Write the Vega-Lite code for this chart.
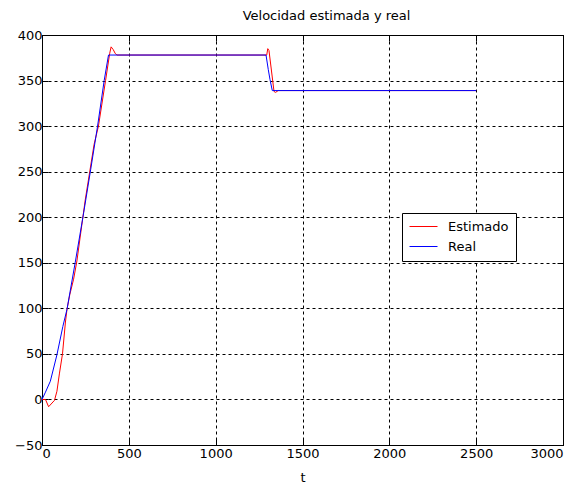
{
  "$schema": "https://vega.github.io/schema/vega-lite/v6.json",
  "autosize": "none",
  "width": 521,
  "height": 410,
  "padding": {"left": 42, "top": 35, "right": 14, "bottom": 42},
  "background": "white",
  "config": {
    "font": "DejaVu Sans",
    "view": {"stroke": "black", "strokeWidth": 1},
    "axis": {
      "domainColor": "black",
      "tickColor": "black",
      "labelColor": "black",
      "labelFontSize": 13,
      "labelFont": "DejaVu Sans",
      "titleFont": "DejaVu Sans",
      "titleFontSize": 13,
      "titleFontWeight": "normal",
      "titleColor": "black",
      "gridColor": "black",
      "gridOpacity": 1,
      "gridDash": [3, 3],
      "gridWidth": 1,
      "tickSize": -6
    }
  },
  "title": {
    "text": "Velocidad estimada y real",
    "fontSize": 13,
    "fontWeight": "normal",
    "font": "DejaVu Sans",
    "color": "black",
    "offset": 6,
    "dx": 24
  },
  "data": {
    "values": [
      {"t": 0, "v": 0, "serie": "Estimado"},
      {"t": 20, "v": 0, "serie": "Estimado"},
      {"t": 38, "v": -8, "serie": "Estimado"},
      {"t": 72, "v": -1, "serie": "Estimado"},
      {"t": 86, "v": 9, "serie": "Estimado"},
      {"t": 100, "v": 28, "serie": "Estimado"},
      {"t": 118, "v": 50, "serie": "Estimado"},
      {"t": 135, "v": 85, "serie": "Estimado"},
      {"t": 144, "v": 99, "serie": "Estimado"},
      {"t": 160, "v": 115, "serie": "Estimado"},
      {"t": 182, "v": 132, "serie": "Estimado"},
      {"t": 201, "v": 152, "serie": "Estimado"},
      {"t": 249, "v": 219, "serie": "Estimado"},
      {"t": 300, "v": 280, "serie": "Estimado"},
      {"t": 325, "v": 300, "serie": "Estimado"},
      {"t": 366, "v": 350, "serie": "Estimado"},
      {"t": 390, "v": 380, "serie": "Estimado"},
      {"t": 398, "v": 387, "serie": "Estimado"},
      {"t": 410, "v": 384, "serie": "Estimado"},
      {"t": 421, "v": 380, "serie": "Estimado"},
      {"t": 431, "v": 378, "serie": "Estimado"},
      {"t": 1294, "v": 378, "serie": "Estimado"},
      {"t": 1300, "v": 385, "serie": "Estimado"},
      {"t": 1307, "v": 383, "serie": "Estimado"},
      {"t": 1336, "v": 338, "serie": "Estimado"},
      {"t": 1345, "v": 337, "serie": "Estimado"},
      {"t": 1360, "v": 339, "serie": "Estimado"},
      {"t": 2500, "v": 339, "serie": "Estimado"},
      {"t": 0, "v": 0, "serie": "Real"},
      {"t": 20, "v": 8, "serie": "Real"},
      {"t": 48, "v": 20, "serie": "Real"},
      {"t": 86, "v": 49, "serie": "Real"},
      {"t": 120, "v": 80, "serie": "Real"},
      {"t": 144, "v": 99, "serie": "Real"},
      {"t": 191, "v": 150, "serie": "Real"},
      {"t": 240, "v": 205, "serie": "Real"},
      {"t": 280, "v": 252, "serie": "Real"},
      {"t": 320, "v": 300, "serie": "Real"},
      {"t": 358, "v": 350, "serie": "Real"},
      {"t": 383, "v": 378, "serie": "Real"},
      {"t": 1290, "v": 378, "serie": "Real"},
      {"t": 1303, "v": 362, "serie": "Real"},
      {"t": 1313, "v": 351, "serie": "Real"},
      {"t": 1326, "v": 339, "serie": "Real"},
      {"t": 2500, "v": 339, "serie": "Real"}
    ]
  },
  "layer": [
    {
      "mark": {"type": "line", "strokeWidth": 1},
      "encoding": {
        "x": {
          "field": "t", "type": "quantitative",
          "scale": {"domain": [0, 3000], "nice": false},
          "axis": {"values": [0, 500, 1000, 1500, 2000, 2500, 3000], "format": "d", "title": "t", "labelPadding": 8, "titlePadding": 11, "grid": true}
        },
        "y": {
          "field": "v", "type": "quantitative",
          "scale": {"domain": [-50, 400], "nice": false},
          "axis": {"values": [-50, 0, 50, 100, 150, 200, 250, 300, 350, 400], "format": "d", "title": null, "labelPadding": 6, "grid": true}
        },
        "color": {
          "field": "serie", "type": "nominal",
          "scale": {"domain": ["Estimado", "Real"], "range": ["#ff0000", "#0000ff"]},
          "legend": {
            "title": null,
            "orient": "none",
            "legendX": 360,
            "legendY": 178,
            "fillColor": "white",
            "strokeColor": "black",
            "padding": 7,
            "clipHeight": 13,
            "rowPadding": 6,
            "symbolType": "stroke",
            "symbolSize": 784,
            "symbolStrokeWidth": 1,
            "labelFontSize": 13,
            "labelFont": "DejaVu Sans",
            "labelColor": "black",
            "labelOffset": 10
          }
        }
      }
    },
    {
      "mark": {"type": "line", "strokeOpacity": 0},
      "encoding": {
        "x": {
          "field": "t", "type": "quantitative",
          "axis": {"orient": "top", "values": [0, 500, 1000, 1500, 2000, 2500, 3000], "labels": false, "title": null, "grid": false}
        },
        "y": {
          "field": "v", "type": "quantitative",
          "axis": {"orient": "right", "values": [-50, 0, 50, 100, 150, 200, 250, 300, 350, 400], "labels": false, "title": null, "grid": false}
        },
        "detail": {"field": "serie"}
      }
    }
  ],
  "resolve": {"axis": {"x": "independent", "y": "independent"}}
}
